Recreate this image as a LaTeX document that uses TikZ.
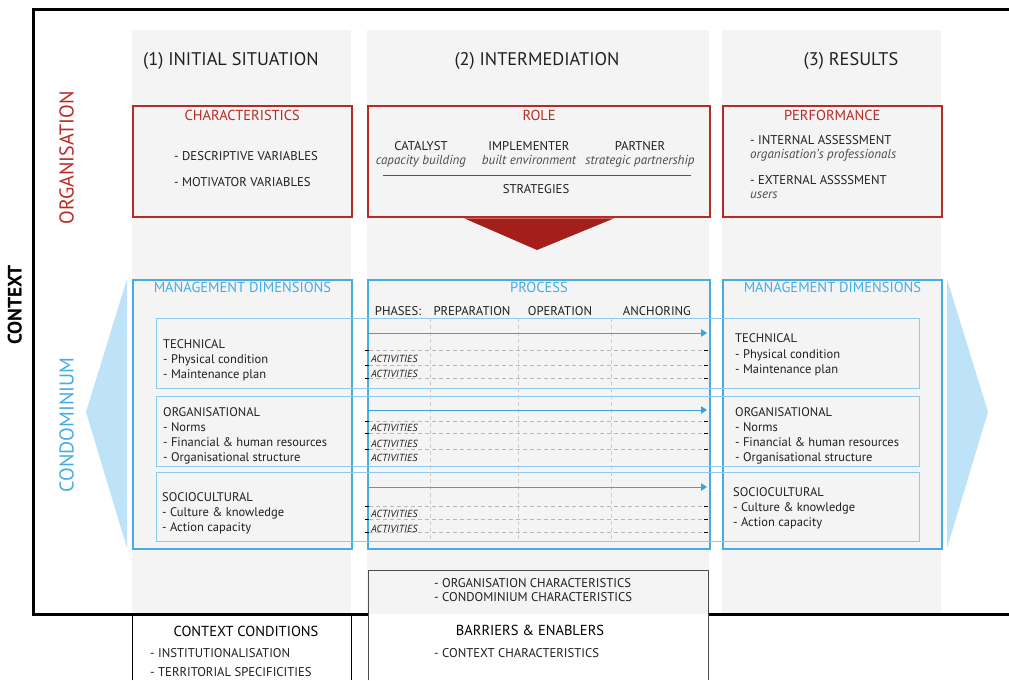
\documentclass[tikz,border=0pt]{standalone}
\usepackage{fontspec}
\setmainfont{PT Sans}
\usetikzlibrary{arrows.meta, calc, positioning}
\definecolor{orgred}{HTML}{B82A25}
\definecolor{orgdark}{HTML}{A51F1A}
\definecolor{condblue}{HTML}{45ADE4}
\definecolor{rowblue}{HTML}{8DCBEE}
\definecolor{arrowblue}{HTML}{3AA3DC}
\definecolor{paleblue}{HTML}{BEE3F8}
\definecolor{colgray}{HTML}{F4F4F4}
\definecolor{txtgray}{HTML}{202020}
\definecolor{dashgray}{HTML}{B8B8B8}
\tikzset{
  % gray background column
  colband/.style={fill=colgray, draw=none},
  % organisation boxes
  redbox/.style={
    draw=orgred
    , line width=1.5pt
    , fill=colgray
    , anchor=north west
    , inner sep=0pt
  },
  % condominium boxes
  bluebox/.style={
    draw=condblue
    , line width=1.9pt
    , anchor=north west
    , inner sep=0pt
  },
  rowline/.style={draw=rowblue, line width=1pt},
  % every text node gets the same box height
  txt/.style={inner sep=0pt, text height=1.4ex, text depth=0pt, yshift=-2pt},
  head/.style={txt, text=txtgray, font=\fontsize{18.3}{20}\selectfont},
  redtitle/.style={txt, text=orgred, font=\fontsize{14.5}{16}\selectfont},
  bluetitle/.style={txt, text=condblue, font=\fontsize{14.5}{16}\selectfont},
  item/.style={txt, text=txtgray, font=\fontsize{12.7}{14}\selectfont, anchor=west},
  itemc/.style={txt, text=txtgray, font=\fontsize{12.7}{14}\selectfont},
  itemi/.style={txt, text=txtgray!80, font=\fontsize{13}{14}\selectfont\itshape},
  dimtext/.style={txt, text=txtgray, font=\fontsize{12.5}{14}\selectfont, anchor=west},
  acttext/.style={txt, text=txtgray, font=\fontsize{10.3}{11}\selectfont\itshape, anchor=west},
  sidelabel/.style={inner sep=0pt, text height=1.4ex, text depth=0pt, rotate=90, font=\fontsize{20}{22}\selectfont},
  ctxhead/.style={txt, text=black, font=\fontsize{14.5}{16}\selectfont},
  procarr/.style={draw=arrowblue, line width=1pt, -{Triangle[length=6pt, width=7.5pt]}},
  actline/.style={draw=dashgray, line width=0.7pt, dash pattern=on 4pt off 3pt},
  phaseline/.style={draw=dashgray!70, line width=0.9pt, dash pattern=on 4pt off 3pt},
  tick/.style={draw=black, line width=0.7pt},
  ctxbox/.style={draw=black, line width=0.9pt},
}

\begin{document}
\begin{tikzpicture}[x=1pt, y=-1pt]
  \useasboundingbox[fill=white] (0,0) rectangle (1009,680);

  % columns
  \fill[colband] (132,30) rectangle (351,614);
  \fill[colband] (367,30) rectangle (709,614);
  \fill[colband] (722,30) rectangle (941,614);

  % context frame
  \draw[line width=3pt] (1009,9) -- (33,9) -- (33,614) -- (368,614);
  \draw[line width=3pt] (708,614) -- (1009,614);
  \node[sidelabel, text=black, font=\fontsize{19.5}{21}\selectfont\bfseries] (ctxlabel) at (18,305) {CONTEXT};

  % column heads
  \node[head] (headinit) at (231,60) {(1) INITIAL SITUATION};
  \node[head] (headinter) at (537,60) {(2) INTERMEDIATION};
  \node[head] (headres) at (851,60) {(3) RESULTS};

  % organisation row
  \node[sidelabel, text=orgred] (orglabel) at (70,158) {ORGANISATION};
  \node[redbox, minimum width=219pt, minimum height=111pt] (charbox) at (132,105) {};
  \node[redbox, line width=2.3pt, minimum width=342pt, minimum height=111pt] (rolebox) at (367,105) {};
  \node[redbox, minimum width=219pt, minimum height=111pt] (perfbox) at (722,105) {};

  \node[redtitle] (chartitle) at ($(charbox.north)+(0,10)$) {CHARACTERISTICS};
  \node[item] (descvar) at (174,155) {- DESCRIPTIVE VARIABLES};
  \node[item] (motivvar) at (174,181) {- MOTIVATOR VARIABLES};

  \node[redtitle] (roletitle) at ($(rolebox.north)+(0,10)$) {ROLE};
  \node[itemc] (catalyst) at (421,145) {CATALYST};
  \node[itemi] (capacity) at (421,159) {capacity building};
  \node[itemc] (implementer) at (529,145) {IMPLEMENTER};
  \node[itemi] (builtenv) at (529,159) {built environment};
  \node[itemc] (partner) at (640,145) {PARTNER};
  \node[itemi] (strategic) at (640,159) {strategic partnership};
  \draw[orgred, line width=0.8pt] (383,175) -- (691,175);
  \node[itemc] (strategies) at (536,188) {STRATEGIES};
  \fill[orgdark] (rolebox.south) ++(-75,0) -- ++(150,0) -- (537,250) -- cycle;

  \node[redtitle] (perftitle) at ($(perfbox.north)+(0,10)$) {PERFORMANCE};
  \node[item] (internal) at (750,139) {- INTERNAL ASSESSMENT};
  \node[itemi, anchor=west] (professionals) at (750,153) {organisation’s professionals};
  \node[item] (external) at (750,179) {- EXTERNAL ASSSSMENT};
  \node[itemi, anchor=west] (users) at (750,193) {users};

  % condominium row
  \node[sidelabel, text=condblue] (condlabel) at (70,425) {CONDOMINIUM};
  \fill[paleblue] (127,279) -- (86,412) -- (127,548) -- cycle;
  \fill[paleblue] (947,279) -- (988,412) -- (947,548) -- cycle;

  \node[bluebox, minimum width=219pt, minimum height=269pt] (mgmtleft) at (132,279) {};
  \node[bluebox, minimum width=342pt, minimum height=269pt] (procbox) at (367,279) {};
  \node[bluebox, minimum width=219pt, minimum height=269pt] (mgmtright) at (722,279) {};

  \node[bluetitle] (mgmtlefttitle) at ($(mgmtleft.north)+(0,8)$) {MANAGEMENT DIMENSIONS};
  \node[bluetitle] (proctitle) at ($(procbox.north)+(0,8)$) {PROCESS};
  \node[bluetitle] (mgmtrighttitle) at ($(mgmtright.north)+(0,8)$) {MANAGEMENT DIMENSIONS};

  % dimension rows
  \draw[rowline] (156,318) rectangle (919,388);
  \draw[rowline] (156,396) rectangle (919,466);
  \draw[rowline] (156,472) rectangle (919,541);

  % phases
  \node[itemc] (phases) at (398,310) {PHASES:};
  \node[itemc] (preparation) at (472,310) {PREPARATION};
  \node[itemc] (operation) at (560,310) {OPERATION};
  \node[itemc] (anchoring) at (657,310) {ANCHORING};
  \foreach \x in {430,518,611}
    \draw[phaseline] (\x,318) -- (\x,541);

  % process arrows
  \foreach \y/\n in {333/a, 410/b, 487/c} {
    \coordinate (arr\n start) at (368,\y);
    \coordinate (arr\n end) at (707,\y);
    \draw[procarr] (arr\n start) -- (arr\n end);
  }

  % activities
  \foreach \y in {350,365,378,421,433,449,506,519,532} {
    \draw[actline] (369,\y) -- (704,\y);
    \draw[tick] (365,\y) -- (369,\y);
    \draw[tick] (704,\y) -- (708,\y);
  }
  \foreach \y in {357,372,426,442,456,512,527}
    \node[acttext] at (371,\y) {ACTIVITIES};

  % left dimensions
  \node[dimtext] (techl) at (163,343) {TECHNICAL};
  \node[dimtext] at (163,358) {- Physical condition};
  \node[dimtext] at (163,373) {- Maintenance plan};
  \node[dimtext] (orgl) at (163,411) {ORGANISATIONAL};
  \node[dimtext] at (163,426) {- Norms};
  \node[dimtext] at (163,441) {- Financial \& human resources};
  \node[dimtext] at (163,456) {- Organisational structure};
  \node[dimtext] (socl) at (162,496) {SOCIOCULTURAL};
  \node[dimtext] at (162,511) {- Culture \& knowledge};
  \node[dimtext] at (162,526) {- Action capacity};

  % right dimensions
  \node[dimtext] (techr) at (735,337) {TECHNICAL};
  \node[dimtext] at (735,353) {- Physical condition};
  \node[dimtext] at (735,368) {- Maintenance plan};
  \node[dimtext] (orgr) at (735,411) {ORGANISATIONAL};
  \node[dimtext] at (735,426) {- Norms};
  \node[dimtext] at (735,441) {- Financial \& human resources};
  \node[dimtext] at (735,456) {- Organisational structure};
  \node[dimtext] (socr) at (733,491) {SOCIOCULTURAL};
  \node[dimtext] at (733,506) {- Culture \& knowledge};
  \node[dimtext] at (733,521) {- Action capacity};

  % context boxes
  \draw[ctxbox] (132,680) -- (132,614) -- (351,614) -- (351,680);
  \draw[draw=black!70, line width=0.9pt] (368,680) -- (368,570) -- (708,570) -- (708,680);
  \node[ctxhead] (ctxcond) at (246,631) {CONTEXT CONDITIONS};
  \node[item] at (150,652) {- INSTITUTIONALISATION};
  \node[item] at (150,671) {- TERRITORIAL SPECIFICITIES};
  \node[item] at (434,582) {- ORGANISATION CHARACTERISTICS};
  \node[item] at (434,596) {- CONDOMINIUM CHARACTERISTICS};
  \node[ctxhead] (barriers) at (530,630) {BARRIERS \& ENABLERS};
  \node[item] at (434,652) {- CONTEXT CHARACTERISTICS};
\end{tikzpicture}
\end{document}
